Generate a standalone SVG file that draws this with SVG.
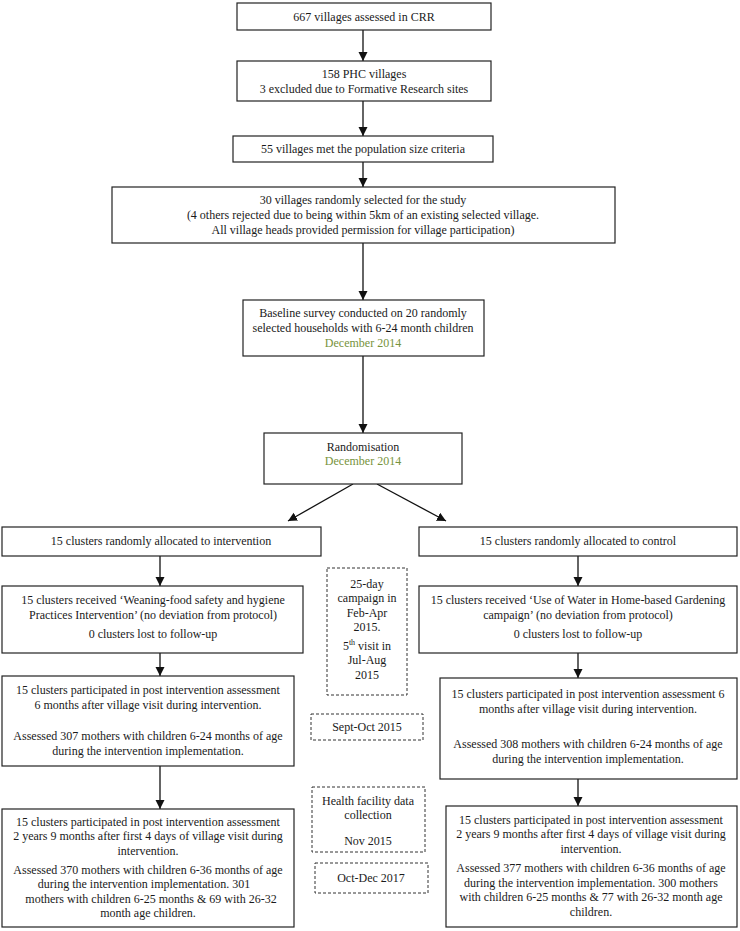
<svg xmlns="http://www.w3.org/2000/svg" width="740" height="931" viewBox="0 0 740 931">
<style>
.box{fill:#fff;stroke:#222;stroke-width:1.2}
.dash{fill:#fff;stroke:#333;stroke-width:1;stroke-dasharray:3,2}
.t{font-family:"Liberation Serif","Times New Roman",serif;font-size:12px;fill:#1a1a1a;text-anchor:middle}
.g{fill:#77933C}
.c{stroke:#111;stroke-width:1.3;fill:none;marker-end:url(#ah)}
</style>
<defs>
<marker id="ah" markerUnits="userSpaceOnUse" markerWidth="10" markerHeight="10" refX="9" refY="4.5" orient="auto">
<path d="M0,0 L9,4.5 L0,9 Z" fill="#111"/>
</marker>
</defs>
<g id="connectors">
<line class="c" x1="363" y1="30" x2="363" y2="61"/>
<line class="c" x1="363" y1="101" x2="363" y2="136"/>
<line class="c" x1="363" y1="162" x2="363" y2="187"/>
<line class="c" x1="363" y1="243" x2="363" y2="300"/>
<line class="c" x1="363" y1="356" x2="363" y2="433"/>
<line class="c" x1="353" y1="484" x2="288" y2="521"/>
<line class="c" x1="377" y1="484" x2="446" y2="521"/>
<line class="c" x1="160" y1="556" x2="160" y2="586"/>
<line class="c" x1="578" y1="556" x2="578" y2="586"/>
<line class="c" x1="160" y1="653" x2="160" y2="676"/>
<line class="c" x1="578" y1="653" x2="578" y2="678"/>
<line class="c" x1="160" y1="766" x2="160" y2="809"/>
<line class="c" x1="578" y1="779" x2="578" y2="806"/>
</g>
<g id="n1"><rect class="box" x="237" y="3" width="254" height="27"/><text class="t" x="364" y="21">667 villages assessed in CRR</text></g>
<g id="n2"><rect class="box" x="237" y="61" width="254" height="40"/><text class="t" x="364" y="78">158 PHC villages</text><text class="t" x="364" y="93">3 excluded due to Formative Research sites</text></g>
<g id="n3"><rect class="box" x="233" y="136" width="260" height="26"/><text class="t" x="363" y="153">55 villages met the population size criteria</text></g>
<g id="n4"><rect class="box" x="112" y="187" width="503" height="56"/><text class="t" x="363" y="204">30 villages randomly selected for the study</text><text class="t" x="363" y="219">(4 others rejected due to being within 5km of an existing selected village.</text><text class="t" x="363" y="234">All village heads provided permission for village participation)</text></g>
<g id="n5"><rect class="box" x="243" y="300" width="241" height="56"/><text class="t" x="363" y="317">Baseline survey conducted on 20 randomly</text><text class="t" x="363" y="332">selected households with 6-24 month children</text><text class="t g" x="363" y="347">December 2014</text></g>
<g id="n6"><rect class="box" x="264" y="433" width="198" height="51"/><text class="t" x="363" y="451">Randomisation</text><text class="t g" x="363" y="465">December 2014</text></g>
<g id="n7"><rect class="box" x="2" y="527" width="319" height="29"/><text class="t" x="161" y="545">15 clusters randomly allocated to intervention</text></g>
<g id="n8"><rect class="box" x="419" y="527" width="318" height="29"/><text class="t" x="578" y="545">15 clusters randomly allocated to control</text></g>
<g id="n9"><rect class="box" x="2" y="586" width="301" height="67"/><text class="t" x="153" y="604">15 clusters received ‘Weaning-food safety and hygiene</text><text class="t" x="153" y="619">Practices Intervention’ (no deviation from protocol)</text><text class="t" x="153" y="638">0 clusters lost to follow-up</text></g>
<g id="n10"><rect class="box" x="419" y="586" width="318" height="67"/><text class="t" x="578" y="604">15 clusters received ‘Use of Water in Home-based Gardening</text><text class="t" x="578" y="619">campaign’ (no deviation from protocol)</text><text class="t" x="578" y="638">0 clusters lost to follow-up</text></g>
<g id="d1"><rect class="dash" x="327" y="568" width="80" height="127"/><text class="t" x="367" y="588">25-day</text><text class="t" x="367" y="602">campaign in</text><text class="t" x="367" y="617">Feb-Apr</text><text class="t" x="367" y="631">2015.</text><text class="t" x="367" y="650">5<tspan font-size="8" dy="-5">th</tspan><tspan dy="5"> visit in</tspan></text><text class="t" x="367" y="664">Jul-Aug</text><text class="t" x="367" y="679">2015</text></g>
<g id="n11"><rect class="box" x="2" y="676" width="292" height="90"/><text class="t" x="148" y="694">15 clusters participated in post intervention assessment</text><text class="t" x="148" y="709">6 months after village visit during intervention.</text><text class="t" x="148" y="740">Assessed 307 mothers with children 6-24 months of age</text><text class="t" x="148" y="755">during the intervention implementation.</text></g>
<g id="d2"><rect class="dash" x="311" y="714" width="112" height="26"/><text class="t" x="367" y="731">Sept-Oct 2015</text></g>
<g id="n12"><rect class="box" x="440" y="678" width="297" height="101"/><text class="t" x="588" y="698">15 clusters participated in post intervention assessment 6</text><text class="t" x="588" y="713">months after village visit during intervention.</text><text class="t" x="588" y="748">Assessed 308 mothers with children 6-24 months of age</text><text class="t" x="588" y="763">during the intervention implementation.</text></g>
<g id="d3"><rect class="dash" x="312" y="787" width="113" height="65"/><text class="t" x="368" y="805">Health facility data</text><text class="t" x="368" y="819">collection</text><text class="t" x="368" y="845">Nov 2015</text></g>
<g id="d4"><rect class="dash" x="315" y="863" width="113" height="30"/><text class="t" x="371" y="882">Oct-Dec 2017</text></g>
<g id="n13"><rect class="box" x="2" y="809" width="292" height="118"/><text class="t" x="148" y="826">15 clusters participated in post intervention assessment</text><text class="t" x="148" y="840">2 years 9 months after first 4 days of village visit during</text><text class="t" x="148" y="855">intervention.</text><text class="t" x="148" y="874">Assessed 370 mothers with children 6-36 months of age</text><text class="t" x="144" y="888">during the intervention implementation. 301</text><text class="t" x="151" y="903">mothers with children 6-25 months &amp; 69 with 26-32</text><text class="t" x="148" y="917">month age children.</text></g>
<g id="n14"><rect class="box" x="446" y="806" width="291" height="121"/><text class="t" x="591" y="824">15 clusters participated in post intervention assessment</text><text class="t" x="591" y="838">2 years 9 months after first 4 days of village visit during</text><text class="t" x="591" y="853">intervention.</text><text class="t" x="591" y="872">Assessed 377 mothers with children 6-36 months of age</text><text class="t" x="591" y="887">during the intervention implementation. 300 mothers</text><text class="t" x="591" y="901">with children 6-25 months &amp; 77 with 26-32 month age</text><text class="t" x="591" y="916">children.</text></g>
</svg>
